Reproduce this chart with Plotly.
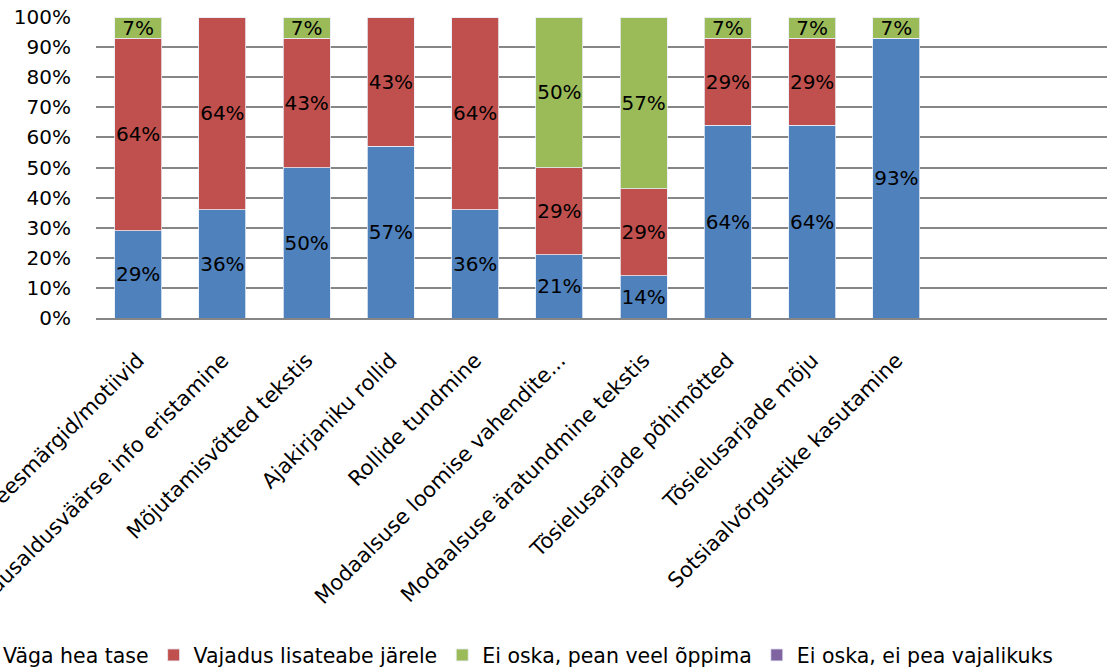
import plotly.graph_objects as go

categories = [
    "Ajakirjanduse eesmärgid/motiivid",
    "Usaldusväärse ja ebausaldusväärse info eristamine",
    "Mõjutamisvõtted tekstis",
    "Ajakirjaniku rollid",
    "Rollide tundmine",
    "Modaalsuse loomise vahendite...",
    "Modaalsuse äratundmine tekstis",
    "Tõsielusarjade põhimõtted",
    "Tõsielusarjade mõju",
    "Sotsiaalvõrgustike kasutamine",
    " ",
    "  ",
]

series_names = [
    "Väga hea tase",
    "Vajadus lisateabe järele",
    "Ei oska, pean veel õppima",
    "Ei oska, ei pea vajalikuks",
]
very_good = [29, 36, 50, 57, 36, 21, 14, 64, 64, 93]
needs_info = [64, 64, 43, 43, 64, 29, 29, 29, 29, 0]
must_learn = [7, 0, 7, 0, 0, 50, 57, 7, 7, 7]
not_needed = [0, 0, 0, 0, 0, 0, 0, 0, 0, 0]

colors = ["#4F81BD", "#C0504D", "#9BBB59", "#8064A2"]
FONT = "DejaVu Sans, sans-serif"

fig = go.Figure()
for name, vals, col in zip(series_names, [very_good, needs_info, must_learn, not_needed], colors):
    fig.add_trace(go.Bar(
        name=name,
        x=categories[:len(vals)],
        y=vals,
        marker=dict(color=col, line=dict(color="#E8EEF7", width=0.8)),
        text=[f"{v}%" if v else "" for v in vals],
        texttemplate="%{text}",
        textposition="inside",
        insidetextanchor="middle",
        textangle=0,
        textfont=dict(family=FONT, size=20, color="black"),
        constraintext="none",
        cliponaxis=False,
    ))

fig.update_layout(
    barmode="stack",
    bargap=0.44,
    width=1115,
    height=672,
    margin=dict(l=96, r=8, t=17, b=354, autoexpand=False),
    paper_bgcolor="white",
    plot_bgcolor="white",
    font=dict(family=FONT, size=20, color="black"),
    uniformtext=dict(mode=False),
    legend=dict(
        orientation="h",
        xref="paper", x=-0.1316, xanchor="left",
        yref="paper", y=-1.12, yanchor="middle",
        font=dict(family=FONT, size=20.5),
        traceorder="normal",
        itemwidth=30,
    ),
)

fig.update_xaxes(
    categoryorder="array",
    categoryarray=categories,
    range=[-0.5, len(categories) - 0.5],
    tickangle=-45,
    tickfont=dict(family=FONT, size=21),
    ticklabelstandoff=20,
    showline=True,
    linecolor="#868686",
    linewidth=1.5,
    automargin=False,
    ticks="",
)

fig.update_yaxes(
    range=[0, 100],
    dtick=10,
    ticksuffix="%",
    tickfont=dict(family=FONT, size=20),
    ticklabelstandoff=24,
    showgrid=True,
    gridcolor="#868686",
    gridwidth=1.5,
    zeroline=False,
    automargin=False,
    ticks="",
)

fig.write_html("out.html")
